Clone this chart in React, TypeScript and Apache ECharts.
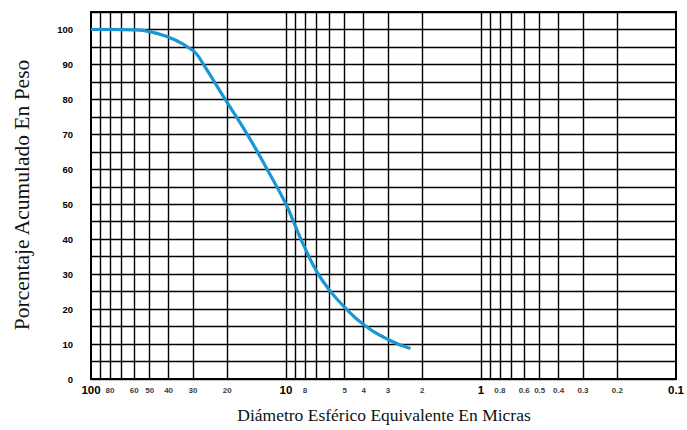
import React, { useEffect, useRef } from "react";
import * as echarts from "echarts";

// Diameter (microns) vs cumulative percent by weight
const diameters = [100, 80, 60, 50, 40, 35, 32, 29, 26.5, 20.5, 15.8, 12.5, 10, 9, 8, 7, 6, 5, 4, 3, 2.3];
const percents = [100, 100, 99.9, 99.4, 97.8, 96.3, 95, 93.2, 90, 80, 70, 60, 50, 44, 37.5, 31, 25.5, 20.5, 15.6, 11.3, 8.7];

// vertical grid lines (log decades subdivisions)
const verticalLines = [90, 80, 70, 60, 50, 40, 30, 20, 10, 9, 8, 7, 6, 5, 4, 3, 2, 1, 0.9, 0.8, 0.7, 0.6, 0.5, 0.4, 0.3, 0.2];
// major and minor x tick labels
const majorLabels = [100, 10, 1, 0.1];
const minorLabels = [80, 60, 50, 40, 30, 20, 8, 5, 4, 3, 2, 0.8, 0.6, 0.5, 0.4, 0.3, 0.2];

const yTitle = "Porcentaje Acumulado En Peso";
const xTitle = "Diámetro Esférico Equivalente En Micras";

export default function App() {
  const ref = useRef<HTMLDivElement>(null);
  useEffect(() => {
    if (!ref.current) return;
    const chart = echarts.init(ref.current, null, { renderer: "svg" });
    const curve = diameters.map((d, i) => [d, percents[i]]);
    chart.setOption({
      animation: false,
      backgroundColor: "#fff",
      grid: { left: 91, top: 12, width: 589, height: 367, show: true, borderColor: "#000", borderWidth: 2 },
      xAxis: {
        type: "log",
        logBase: 10,
        min: 0.1,
        max: 100,
        inverse: true,
        axisLine: { show: true, lineStyle: { color: "#000", width: 2 } },
        axisTick: { show: false },
        splitLine: { show: false },
        minorTick: { show: false },
        axisLabel: {
          show: true,
          margin: 5,
          color: "#000",
          fontFamily: "Liberation Sans, Arial, sans-serif",
          fontWeight: "bold",
          fontSize: 11.5,
          formatter: (v: number) => (majorLabels.some((m) => Math.abs(m - v) < 1e-9) ? String(v) : ""),
        },
      },
      yAxis: {
        type: "value",
        min: 0,
        max: 105,
        interval: 5,
        axisLine: { show: true, lineStyle: { color: "#000", width: 2 } },
        axisTick: { show: false },
        splitLine: { show: true, lineStyle: { color: "#000", width: 1.4 } },
        axisLabel: {
          margin: 18,
          color: "#000",
          fontFamily: "Liberation Sans, Arial, sans-serif",
          fontWeight: "bold",
          fontSize: 9.5,
          formatter: (v: number) => (v % 10 === 0 ? String(v) : ""),
        },
      },
      graphic: [
        {
          type: "text",
          x: 22,
          y: 195,
          rotation: Math.PI / 2,
          style: {
            text: yTitle,
            font: "21.5px 'Liberation Serif', 'Times New Roman', serif",
            fill: "#111",
            align: "center",
            verticalAlign: "middle",
          },
        },
        {
          type: "text",
          x: 384,
          y: 415,
          style: {
            text: xTitle,
            font: "17.5px 'Liberation Serif', 'Times New Roman', serif",
            fill: "#111",
            align: "center",
            verticalAlign: "middle",
          },
        },
      ],
      series: [
        {
          type: "scatter",
          z: 1,
          clip: false,
          symbolSize: 1,
          itemStyle: { color: "rgba(0,0,0,0)" },
          silent: true,
          data: minorLabels.map((v) => [v, 0]),
          label: {
            show: true,
            position: "bottom",
            distance: 7,
            color: "#000",
            fontFamily: "Liberation Sans, Arial, sans-serif",
            fontWeight: "bold",
            fontSize: 8,
            formatter: (p: any) => String(p.value[0]),
          },
          markLine: {
            silent: true,
            symbol: ["none", "none"],
            label: { show: false },
            lineStyle: { color: "#000", width: 1.4, type: "solid" },
            data: verticalLines.map((v) => ({ xAxis: v })),
          },
        },
        {
          type: "line",
          z: 5,
          data: curve,
          smooth: 0.5,
          showSymbol: false,
          lineStyle: { color: "#1a96d4", width: 3.2 },
          itemStyle: { color: "#1a96d4" },
        },
      ],
    });
    return () => chart.dispose();
  }, []);
  return (
    <div
      ref={ref}
      style={{ position: "fixed", left: 0, top: 0, width: 687, height: 430, background: "#fff" }}
    />
  );
}
